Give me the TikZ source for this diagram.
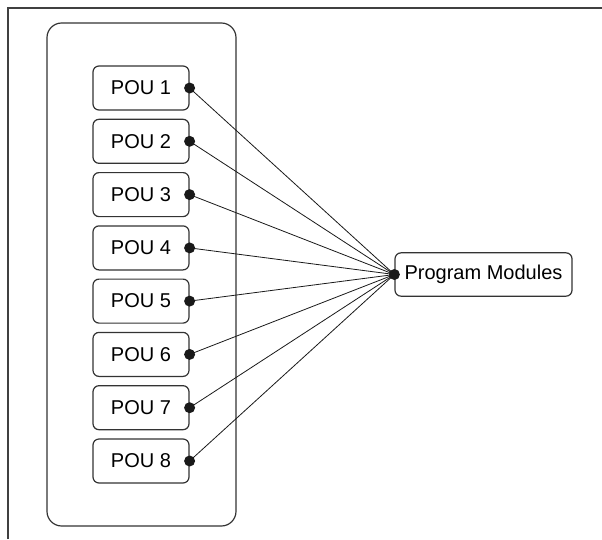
\documentclass[tikz,border=0pt]{standalone}
\usepackage{fontspec}
\setmainfont{Liberation Sans}

\begin{document}
\begin{tikzpicture}[x=0.75pt,y=-0.75pt,
  pou/.style={draw=black!80,line width=0.9pt,rounded corners=4.5pt,minimum width=72pt,minimum height=33pt,inner sep=0pt,font=\fontsize{15}{18}\selectfont},
  modules/.style={draw=black!80,line width=0.9pt,rounded corners=4.5pt,minimum width=132.75pt,minimum height=32.5pt,inner sep=0pt,font=\fontsize{15}{18}\selectfont},
  link/.style={line width=0.6pt,black!90},
  pin/.style={fill=black!90}]
\useasboundingbox (0,0) rectangle (602,539);

% frame and container
\draw[black!75,line width=1.5pt] (7.5,539) -- (7.5,7.5) -- (602,7.5);
\draw[black!80,line width=0.9pt,rounded corners=11pt] (47,23) rectangle (236,526);

\node[pou] (pou1) at (141,88) {POU 1};
\node[pou] (pou2) at (141,141.3) {POU 2};
\node[pou] (pou3) at (141,194.6) {POU 3};
\node[pou] (pou4) at (141,247.9) {POU 4};
\node[pou] (pou5) at (141,301.1) {POU 5};
\node[pou] (pou6) at (141,354.4) {POU 6};
\node[pou] (pou7) at (141,407.7) {POU 7};
\node[pou] (pou8) at (141,461) {POU 8};

\node[modules] (pm) at (483.5,274.5) {Program Modules};

% links
\foreach \i in {1,...,8} {
  \draw[link] (pou\i.east) -- (pm.west);
  \fill[pin] (pou\i.east) circle[radius=5.5];
}
\fill[pin] (pm.west) circle[radius=5.5];
\end{tikzpicture}
\end{document}
